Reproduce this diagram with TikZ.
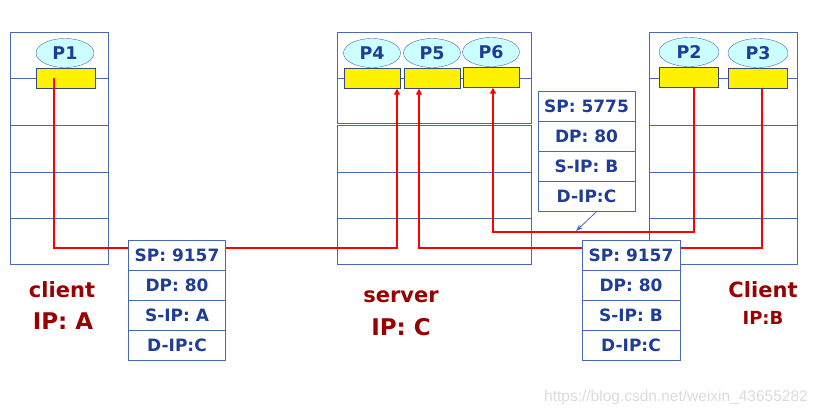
\documentclass[tikz,border=0pt]{standalone}
\usepackage{fontspec}
\setmainfont{DejaVu Sans}
\newfontfamily\wmfont{Liberation Sans}
\usetikzlibrary{arrows.meta,shapes.geometric}
\definecolor{navy}{HTML}{1F3C96}
\definecolor{boxblue}{HTML}{4A68B8}
\definecolor{lbl}{HTML}{990000}
\definecolor{cyanfill}{HTML}{CCFFFF}
\begin{document}
\begin{tikzpicture}[x=1pt,y=-1pt,
  host/.style={draw=boxblue, line width=0.8pt},
  proc/.style={ellipse, draw=boxblue, fill=cyanfill, minimum width=58pt, minimum height=29pt, inner sep=0pt, font=\bfseries\fontsize{17.5}{17.5}\selectfont, text=navy},
  sock/.style={rectangle, draw=boxblue!70!black, fill=yellow, minimum width=59pt, minimum height=20pt, inner sep=0pt},
  cell/.style={rectangle, draw=boxblue, fill=white, minimum width=97pt, minimum height=30pt, inner sep=0pt, font=\bfseries\fontsize{17}{17}\selectfont, text=navy},
  flow/.style={red, line width=1.4pt},
  arr/.style={flow, -{Triangle[length=6pt,width=6pt]}},
  lbltop/.style={text=lbl, font=\bfseries\fontsize{21}{21}\selectfont, inner sep=0pt},
  lblbot/.style={text=lbl, font=\bfseries\fontsize{23}{23}\selectfont, inner sep=0pt}]
\useasboundingbox (0,0) rectangle (821,416);
% hosts
\draw[host] (10,32) rectangle (108,264);
\foreach \y in {78,125,172,218} \draw[host] (10,\y) -- (108,\y);
\draw[host] (337,32) rectangle (531,123);
\draw[host] (337,78) -- (531,78);
\draw[host] (337,125) rectangle (531,264);
\foreach \y in {172,218} \draw[host] (337,\y) -- (531,\y);
\draw[host] (649,32) rectangle (797,264);
\foreach \y in {78,125,172,218} \draw[host] (649,\y) -- (797,\y);
% processes
\node[proc] (p1) at (65,53) {P1};
\node[proc, minimum width=57pt] (p4) at (372,53) {P4};
\node[proc, minimum width=57pt] (p5) at (432,53) {P5};
\node[proc, minimum width=57pt] (p6) at (491,52) {P6};
\node[proc, minimum width=60pt] (p2) at (689,52) {P2};
\node[proc, minimum width=60pt] (p3) at (758,53) {P3};
% sockets
\node[sock] (s1) at (65.5,78) {};
\node[sock, minimum width=56pt] (s4) at (372,78.5) {};
\node[sock, minimum width=56pt] (s5) at (432,78.5) {};
\node[sock, minimum width=56pt] (s6) at (491,77.5) {};
\node[sock] (s2) at (688.5,77.5) {};
\node[sock] (s3) at (757.5,78.5) {};
% flows
\coordinate (a1) at (54,248);
\coordinate (a2) at (397,248);
\draw[arr] ([xshift=-11.5pt]s1.center) -- (a1) -- (a2) -- (a2 |- s4.south);
\coordinate (b1) at (694,232);
\coordinate (b2) at (493,232);
\draw[arr] (b1 |- s2.south) -- (b1) -- (b2) -- (b2 |- s6.south);
\coordinate (c1) at (762,248);
\coordinate (c2) at (419,248);
\draw[arr] (c1 |- s3.south) -- (c1) -- (c2) -- (c2 |- s5.south);
% packet A
\node[cell] (pa1) at (177,255) {SP: 9157};
\node[cell] (pa2) at (177,285) {DP: 80};
\node[cell] (pa3) at (177,315) {S-IP: A};
\node[cell] (pa4) at (177,345) {D-IP:C};
% packet 5775
\node[cell] (pc1) at (586.5,106) {SP: 5775};
\node[cell] (pc2) at (586.5,136) {DP: 80};
\node[cell] (pc3) at (586.5,166) {S-IP: B};
\node[cell] (pc4) at (586.5,196) {D-IP:C};
\coordinate (ptr) at (576,231);
\draw[boxblue, line width=0.8pt, -{Stealth[length=7pt,width=5pt]}] ([xshift=10.5pt]pc4.south) -- (ptr);
% packet B
\node[cell, minimum width=98pt] (pb1) at (631,255) {SP: 9157};
\node[cell, minimum width=98pt] (pb2) at (631,285) {DP: 80};
\node[cell, minimum width=98pt] (pb3) at (631,315) {S-IP: B};
\node[cell, minimum width=98pt] (pb4) at (631,345) {D-IP:C};
% labels
\node[lbltop] (l1) at (62,290) {client};
\node[lblbot] (l2) at (63,321) {IP: A};
\node[lbltop] (l3) at (401,297) {server};
\node[lblbot] (l4) at (401,327) {IP: C};
\node[lbltop] (l5) at (763,290) {Client};
\node[text=lbl, font=\bfseries\fontsize{18}{18}\selectfont, inner sep=0pt] (l6) at (763,318) {IP:B};
% watermark
\node[text=black!14, font=\wmfont\fontsize{15.5}{15.5}\selectfont, inner sep=0pt] (wm) at (676,397) {https://blog.csdn.net/weixin\_43655282};
\end{tikzpicture}
\end{document}
